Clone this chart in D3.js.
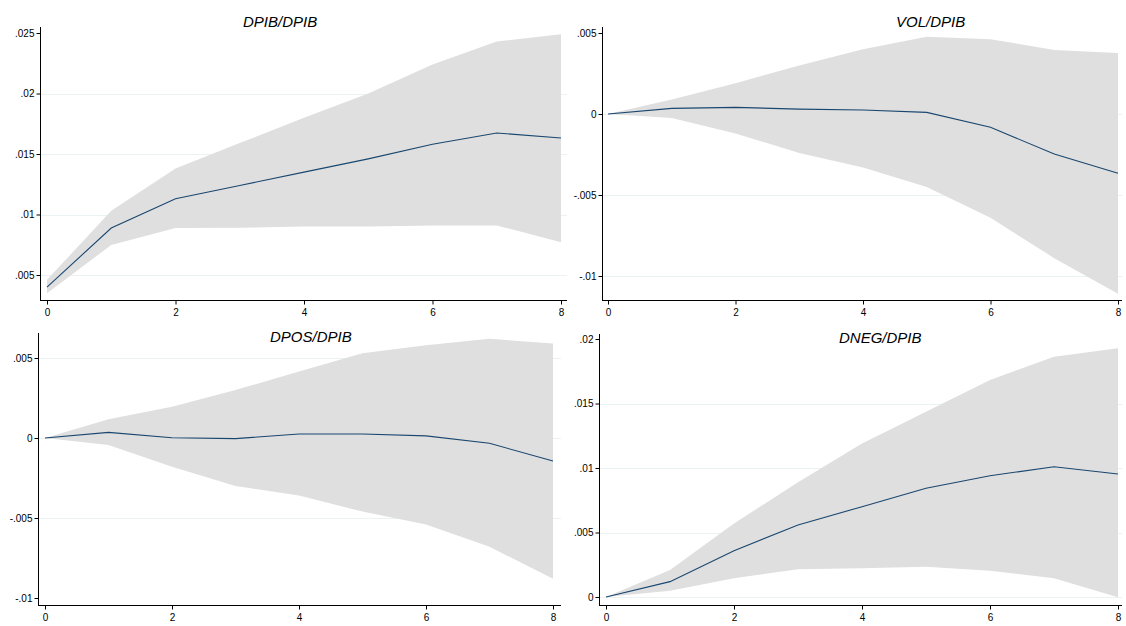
<!DOCTYPE html>
<html>
<head>
<meta charset="utf-8">
<script src="https://cdn.jsdelivr.net/npm/d3@7"></script>
<style>
  body { margin: 0; background: #fff; }
  svg { display: block; font-family: "Liberation Sans", Arial, sans-serif; }
  .tick text { font-size: 10px; fill: #000; }
  .title { font-size: 15px; font-style: italic; fill: #000; }
</style>
</head>
<body>
<div id="vis"></div>
<script>
var width = 1126, height = 626;

// horizon steps
var steps = [0, 1, 2, 3, 4, 5, 6, 7, 8];

// DPIB/DPIB
var dpibIrf   = [0.0040, 0.00888, 0.01130, 0.0124, 0.0135, 0.0146, 0.0158, 0.01674, 0.01632];
var dpibUpper = [0.0046, 0.0103, 0.0138, 0.0159, 0.0180, 0.0200, 0.0224, 0.0243, 0.0249];
var dpibLower = [0.0035, 0.00748, 0.00888, 0.0089, 0.0090, 0.0090, 0.0091, 0.0091, 0.0077];

// VOL/DPIB
var volIrf   = [0, 0.00035, 0.00041, 0.00030, 0.00025, 0.00010, -0.00082, -0.00247, -0.00366];
var volUpper = [0, 0.00090, 0.0019, 0.0030, 0.0040, 0.00477, 0.00462, 0.00395, 0.00376];
var volLower = [0, -0.00025, -0.0012, -0.0024, -0.0033, -0.0045, -0.0064, -0.0089, -0.0111];

// DPOS/DPIB
var posIrf   = [0, 0.00035, 0.00002, -0.00004, 0.00025, 0.00025, 0.00013, -0.00033, -0.00144];
var posUpper = [0, 0.00117, 0.00196, 0.0030, 0.00415, 0.0053, 0.0058, 0.0062, 0.0059];
var posLower = [0, -0.00044, -0.0018, -0.0030, -0.0036, -0.0046, -0.0054, -0.0068, -0.0088];

// DNEG/DPIB
var negIrf   = [0, 0.00119, 0.00359, 0.00558, 0.0070, 0.00843, 0.0094, 0.0101, 0.00953];
var negUpper = [0, 0.0021, 0.0057, 0.0089, 0.0119, 0.01436, 0.01682, 0.01863, 0.01928];
var negLower = [0, 0.00049, 0.00145, 0.00215, 0.00222, 0.00235, 0.00204, 0.00145, -0.00002];

var xTicks = [0, 2, 4, 6, 8];

var panels = [
  { title: "DPIB/DPIB", irf: dpibIrf, up: dpibUpper, lo: dpibLower,
    ticks: [0.005, 0.01, 0.015, 0.02, 0.025], grid: [0.005, 0.01, 0.015, 0.02],
    yd: [0.005, 0.025], yr: [275, 33], xr: [47, 561],
    left: 40, right: 567, top: 27, bottom: 300, tx: 243, ty: 27 },
  { title: "VOL/DPIB", irf: volIrf, up: volUpper, lo: volLower,
    ticks: [-0.01, -0.005, 0, 0.005], grid: [-0.01, -0.005, 0],
    yd: [0, -0.01], yr: [114, 276], xr: [608, 1118],
    left: 602, right: 1122, top: 27, bottom: 300, tx: 896, ty: 27 },
  { title: "DPOS/DPIB", irf: posIrf, up: posUpper, lo: posLower,
    ticks: [-0.01, -0.005, 0, 0.005], grid: [-0.005, 0, 0.005],
    yd: [0, -0.01], yr: [438, 598], xr: [45, 553],
    left: 38, right: 561, top: 333, bottom: 605, tx: 270, ty: 342 },
  { title: "DNEG/DPIB", irf: negIrf, up: negUpper, lo: negLower,
    ticks: [0, 0.005, 0.01, 0.015, 0.02], grid: [0, 0.005, 0.01, 0.015],
    yd: [0, 0.02], yr: [597, 339], xr: [606, 1118],
    left: 599, right: 1122, top: 334, bottom: 605, tx: 839, ty: 343 }
];

// stata style labels: .005, -.01, 0
function fmt(v) {
  if (Math.abs(v) < 1e-12) return "0";
  var s = String(+v.toFixed(4));
  return s.replace(/^(-?)0\./, "$1.");
}

var svg = d3.select("#vis")
    .append("svg")
    .attr("width", width)
    .attr("height", height);

panels.forEach(function(p) {
    var g = svg.append("g");

    var xscale = d3.scaleLinear().domain([0, 8]).range(p.xr);
    var yscale = d3.scaleLinear().domain(p.yd).range(p.yr);

    // gridlines
    g.selectAll(".grid")
        .data(p.grid)
        .enter()
        .append("line")
        .attr("x1", p.left)
        .attr("x2", p.right)
        .attr("y1", function(d) { return Math.round(yscale(d)) + 0.5; })
        .attr("y2", function(d) { return Math.round(yscale(d)) + 0.5; })
        .attr("stroke", "#eaf2f3")
        .attr("stroke-width", 1);

    // confidence band
    var band = d3.area()
        .x(function(d, i) { return xscale(steps[i]); })
        .y0(function(d, i) { return yscale(p.lo[i]); })
        .y1(function(d, i) { return yscale(p.up[i]); });

    g.append("path")
        .datum(steps)
        .attr("d", band)
        .attr("fill", "#dfdfdf");

    var line = d3.line()
        .x(function(d, i) { return xscale(steps[i]); })
        .y(function(d) { return yscale(d); });

    g.append("path")
        .datum(p.irf)
        .attr("d", line)
        .attr("fill", "none")
        .attr("stroke", "#1a476f")
        .attr("stroke-width", 1.1);

    // axes
    var yaxis = d3.axisLeft(yscale)
        .tickValues(p.ticks)
        .tickFormat(fmt)
        .tickSizeOuter(0)
        .tickSize(4)
        .tickPadding(2);

    var ya = g.append("g")
        .attr("transform", "translate(" + (p.left + 0.5) + ",0)")
        .call(yaxis);
    ya.select(".domain").remove();

    var xaxis = d3.axisBottom(xscale)
        .tickValues(xTicks)
        .tickFormat(d3.format("d"))
        .tickSizeOuter(0)
        .tickSize(4)
        .tickPadding(4);

    var xa = g.append("g")
        .attr("transform", "translate(0," + (p.bottom + 0.5) + ")")
        .call(xaxis);
    xa.select(".domain").remove();

    g.append("line")
        .attr("x1", p.left + 0.5).attr("x2", p.left + 0.5)
        .attr("y1", p.top).attr("y2", p.bottom + 1)
        .attr("stroke", "#000");

    g.append("line")
        .attr("x1", p.left).attr("x2", p.right)
        .attr("y1", p.bottom + 0.5).attr("y2", p.bottom + 0.5)
        .attr("stroke", "#000");

    g.append("text")
        .attr("class", "title")
        .attr("x", p.tx)
        .attr("y", p.ty)
        .text(p.title);
});
</script>
</body>
</html>
